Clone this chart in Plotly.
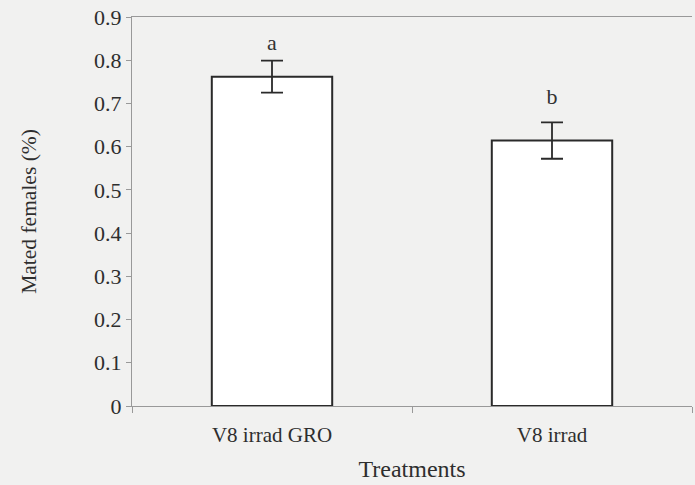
import plotly.graph_objects as go

categories = ["V8 irrad GRO", "V8 irrad"]
values = [0.762, 0.614]
errors = [0.037, 0.042]
letters = ["a", "b"]
letter_y = [0.812, 0.686]
y_ticks = [0, 0.1, 0.2, 0.3, 0.4, 0.5, 0.6, 0.7, 0.8, 0.9]
y_ticklabels = ["0", "0.1", "0.2", "0.3", "0.4", "0.5", "0.6", "0.7", "0.8", "0.9"]

font = "Liberation Serif, Times New Roman, serif"
bg = "#f1f1f0"

fig = go.Figure()
fig.add_trace(go.Bar(
    x=categories, y=values, width=0.43,
    marker=dict(color="white", line=dict(color="#2a2a2a", width=2)),
    error_y=dict(type="data", array=errors, visible=True, color="#2a2a2a",
                 thickness=1.8, width=11),
    showlegend=False,
))
fig.add_trace(go.Scatter(
    x=categories, y=letter_y,
    mode="text", text=letters, textposition="top center",
    textfont=dict(family=font, size=22, color="#333"),
    showlegend=False, cliponaxis=False,
))

fig.update_layout(
    width=695, height=485,
    margin=dict(l=132, r=3, t=17, b=79),
    paper_bgcolor=bg, plot_bgcolor=bg,
    font=dict(family=font, size=22, color="#2e2e2e"),
)
fig.update_xaxes(
    showline=True, linecolor="#999", linewidth=1, mirror=True,
    ticks="outside", tickson="boundaries", ticklen=6, tickcolor="#999",
    showgrid=False, tickfont=dict(size=21), ticklabelstandoff=10,
    title=dict(text="Treatments", font=dict(size=24), standoff=13),
)
fig.update_yaxes(
    range=[0, 0.9], tickvals=y_ticks, ticktext=y_ticklabels,
    showline=True, linecolor="#999", linewidth=1,
    ticks="outside", ticklen=5, tickcolor="#999",
    showgrid=False, zeroline=False, tickfont=dict(size=22),
    title=dict(text="Mated females (%)", font=dict(size=21.5), standoff=51),
)
fig.write_html(
    "out.html",
    config={"displayModeBar": False},
    post_script="document.body.style.margin='0';document.body.style.background='" + bg + "';",
)
